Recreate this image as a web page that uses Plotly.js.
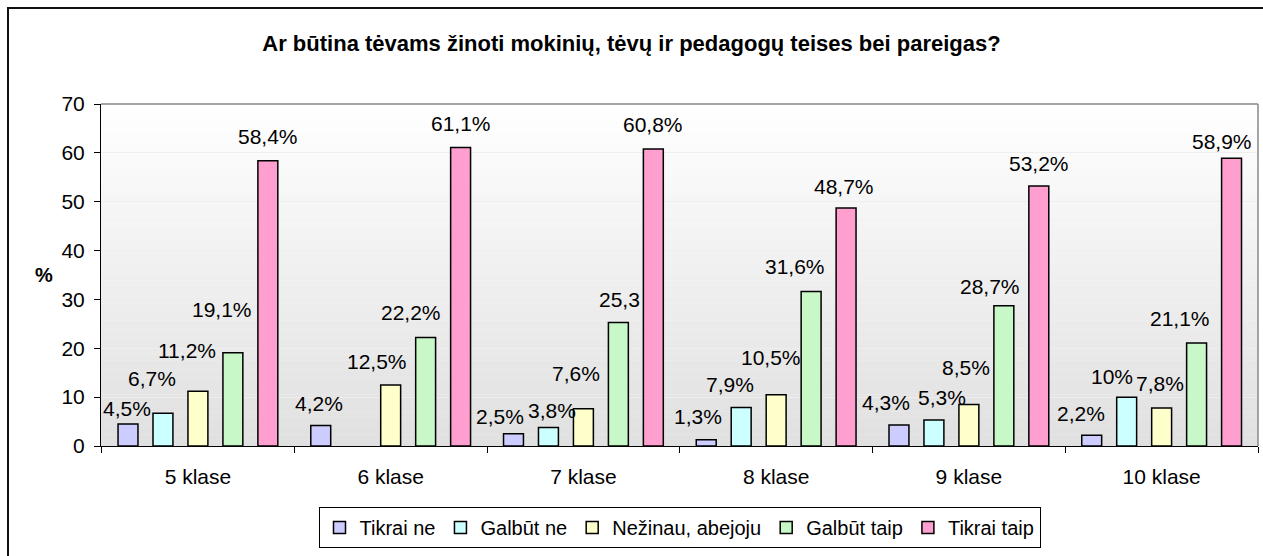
<!DOCTYPE html>
<html>
<head>
<meta charset="utf-8">
<script src="https://cdn.plot.ly/plotly-3.0.1.min.js"></script>
<style>
  html, body { margin: 0; padding: 0; background: #fff; overflow: hidden; }
  #chart { position: absolute; left: 0; top: 0; width: 1263px; height: 556px; }
  #frame { position: absolute; left: 7px; top: 7px; width: 1300px; height: 600px;
           border: 2px solid #111; pointer-events: none; }
</style>
</head>
<body>
<div id="chart"></div>
<div id="frame"></div>
<script>
// ---- data ----
const categories = ["5 klase", "6 klase", "7 klase", "8 klase", "9 klase", "10 klase"];
const seriesNames = ["Tikrai ne", "Galbūt ne", "Nežinau, abejoju", "Galbūt taip", "Tikrai taip"];
const tikraiNe   = [4.5, 4.2, 2.5, 1.3, 4.3, 2.2];
const galbutNe   = [6.7, null, 3.8, 7.9, 5.3, 10];
const nezinau    = [11.2, 12.5, 7.6, 10.5, 8.5, 7.8];
const galbutTaip = [19.1, 22.2, 25.3, 31.6, 28.7, 21.1];
const tikraiTaip = [58.4, 61.1, 60.8, 48.7, 53.2, 58.9];
const labelsTikraiNe   = ["4,5%", "4,2%", "2,5%", "1,3%", "4,3%", "2,2%"];
const labelsGalbutNe   = ["6,7%", "", "3,8%", "7,9%", "5,3%", "10%"];
const labelsNezinau    = ["11,2%", "12,5%", "7,6%", "10,5%", "8,5%", "7,8%"];
const labelsGalbutTaip = ["19,1%", "22,2%", "25,3", "31,6%", "28,7%", "21,1%"];
const labelsTikraiTaip = ["58,4%", "61,1%", "60,8%", "48,7%", "53,2%", "58,9%"];

// ---- styling / label placement (pixels) ----
const colors = ["#ccccff", "#ccffff", "#ffffcc", "#c8f7c8", "#ff9fcf"];
const labelDx = [
  [-1, -2, -13, -8, -13, -11],
  [-11, 0, 4, -11, 8, -15],
  [-11, -14, -7, -5, -3, -2],
  [-11, -15, 1, -16, -14, -17],
  [0, 0, 0, -2, 0, -10]
];
const labelUp = [
  [16, 22, 17, 23, 22, 22],
  [35, 0, 17, 23, 23, 21],
  [41, 23, 35, 37, 37, 24],
  [43, 25, 23, 25, 19, 24],
  [24, 24, 24, 22, 23, 17]
];

const values = [tikraiNe, galbutNe, nezinau, galbutTaip, tikraiTaip];
const labels = [labelsTikraiNe, labelsGalbutNe, labelsNezinau, labelsGalbutTaip, labelsTikraiTaip];

const FONT = "Liberation Sans, Arial, sans-serif";
const TXT = 21;
const bargap = 0.093;
const nSeries = values.length;

const traces = values.map((v, i) => ({
  type: "bar",
  name: seriesNames[i],
  x: categories,
  y: v,
  marker: { color: colors[i], line: { color: "#000", width: 1.5 } },
  hoverinfo: "skip"
}));

// data labels anchored to each bar top
const annotations = [];
const slot = (1 - bargap) / nSeries;
values.forEach((v, i) => {
  v.forEach((val, j) => {
    if (val === null || !labels[i][j]) return;
    annotations.push({
      xref: "x", yref: "y",
      x: j + (i - (nSeries - 1) / 2) * slot,
      y: val,
      text: labels[i][j],
      showarrow: false,
      xanchor: "center", yanchor: "middle",
      xshift: labelDx[i][j], yshift: labelUp[i][j],
      font: { family: FONT, size: TXT, color: "#000" }
    });
  });
});
// y axis title "%"
annotations.push({
  xref: "paper", yref: "paper", x: 0, y: 0.5, xshift: -57,
  text: "<b>%</b>", showarrow: false, xanchor: "center", yanchor: "middle",
  font: { family: FONT, size: 20, color: "#000" }
});

// gradient background bands + top/right frame lines
const shapes = [];
const nb = 60;
for (let k = 0; k < nb; k++) {
  const t = (k + 0.5) / nb; // 0 bottom -> 1 top
  const g = Math.round(0xe0 + (0xff - 0xe0) * t);
  const c = `rgb(${g},${g},${g})`;
  shapes.push({
    type: "rect", xref: "paper", yref: "paper", layer: "below",
    x0: 0, x1: 1, y0: k / nb, y1: (k + 1.05) / nb,
    fillcolor: c, line: { width: 0 }
  });
}
shapes.push({ type: "line", xref: "paper", yref: "paper", layer: "above",
  x0: 0, x1: 1, y0: 1, y1: 1, line: { color: "#888", width: 1.5 } });
shapes.push({ type: "line", xref: "paper", yref: "paper", layer: "above",
  x0: 1, x1: 1, y0: 0, y1: 1, line: { color: "#888", width: 1.5 } });

const layout = {
  width: 1263, height: 556,
  margin: { l: 101, r: 5, t: 104, b: 110 },
  paper_bgcolor: "rgba(0,0,0,0)",
  plot_bgcolor: "rgba(0,0,0,0)",
  font: { family: FONT, size: TXT, color: "#000" },
  title: {
    text: "<b>Ar būtina tėvams žinoti mokinių, tėvų ir pedagogų teises bei pareigas?</b>",
    font: { family: FONT, size: 22, color: "#000" },
    x: 0.5, xref: "container", xanchor: "center",
    y: 1 - 43 / 556, yref: "container", yanchor: "middle"
  },
  barmode: "group",
  bargap: bargap,
  bargroupgap: 0.43,
  showlegend: true,
  legend: {
    orientation: "h",
    x: 0.5, xanchor: "center",
    y: -0.178, yanchor: "top",
    bgcolor: "#fff", bordercolor: "#000", borderwidth: 1,
    font: { family: FONT, size: 20, color: "#000" },
    itemwidth: 30, tracegroupgap: 0,
    itemclick: false, itemdoubleclick: false
  },
  xaxis: {
    type: "category",
    showline: true, linecolor: "#000", linewidth: 1,
    ticks: "outside", tickson: "boundaries", ticklen: 6, tickcolor: "#000",
    ticklabelstandoff: 12,
    showgrid: false, zeroline: false,
    tickfont: { family: FONT, size: TXT, color: "#000" },
    fixedrange: true
  },
  yaxis: {
    range: [0, 70], dtick: 10, tick0: 0,
    showline: true, linecolor: "#000", linewidth: 1,
    ticks: "outside", ticklen: 6, tickcolor: "#000",
    ticklabelstandoff: 5,
    showgrid: true, gridcolor: "#eeeeee", gridwidth: 1,
    zeroline: false,
    tickfont: { family: FONT, size: TXT, color: "#000" },
    fixedrange: true
  },
  annotations: annotations,
  shapes: shapes
};

Plotly.newPlot("chart", traces, layout, { staticPlot: true, displayModeBar: false });
</script>
</body>
</html>
